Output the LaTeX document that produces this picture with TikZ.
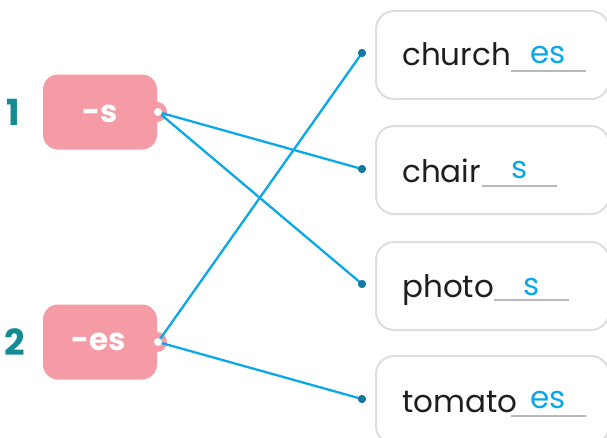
\documentclass[tikz,border=0pt]{standalone}
\usepackage{fontspec}
\setmainfont{Poppins}
\definecolor{tagpink}{RGB}{245,155,165}
\definecolor{numteal}{RGB}{20,138,146}
\definecolor{linkblue}{RGB}{10,168,230}
\definecolor{dotblue}{RGB}{22,120,160}
\definecolor{boxgray}{RGB}{222,222,222}
\definecolor{ulgray}{RGB}{185,185,185}
\definecolor{inkblack}{RGB}{30,30,30}
\begin{document}
\begin{tikzpicture}[x=1pt,y=-1pt,
  tagbox/.style={fill=tagpink, rounded corners=15pt, minimum width=114pt, minimum height=75pt, inner sep=0pt},
  tagtxt/.style={text=white, font=\fontsize{31}{34}\selectfont\bfseries, inner sep=0pt},
  numlbl/.style={text=numteal, font=\fontsize{36}{38}\selectfont\bfseries, inner sep=0pt},
  wordbox/.style={draw=boxgray, line width=2pt, rounded corners=18pt, minimum width=233pt, minimum height=88pt,
    anchor=north west, inner sep=0pt},
  wordtxt/.style={text=inkblack, font=\fontsize{31}{34}\selectfont, anchor=base west, inner sep=0pt},
  anstxt/.style={text=linkblue, font=\fontsize{31}{34}\selectfont, anchor=base, inner sep=0pt},
  uline/.style={draw=ulgray, line width=1.6pt},
  link/.style={draw=linkblue, line width=2.3pt},
  enddot/.style={circle, fill=dotblue, inner sep=0pt, minimum size=8pt}
]
\useasboundingbox (0,0) rectangle (607,437);
% right word boxes
\node[wordbox] (b1) at (375,10) {};
\node[wordbox] (b2) at (375,125) {};
\node[wordbox] (b3) at (375,241) {};
\node[wordbox] (b4) at (375,355) {};
% words
\node[wordtxt] (w1) at (402,65) {church};
\node[wordtxt] (w2) at (402,182) {chair};
\node[wordtxt] (w3) at (402,297) {photo};
\node[wordtxt] (w4) at (402,412) {tomato};
% blanks
\coordinate (u1a) at (511,71); \coordinate (u1b) at (586,71);
\coordinate (u2a) at (482,186); \coordinate (u2b) at (557,186);
\coordinate (u3a) at (494,300); \coordinate (u3b) at (569,300);
\coordinate (u4a) at (511,416); \coordinate (u4b) at (586,416);
\draw[uline] (u1a) -- (u1b);
\draw[uline] (u2a) -- (u2b);
\draw[uline] (u3a) -- (u3b);
\draw[uline] (u4a) -- (u4b);
\node[anstxt] (a1) at (548,63) {es};
\node[anstxt] (a2) at (520,178) {s};
\node[anstxt] (a3) at (532,295) {s};
\node[anstxt] (a4) at (548,408) {es};
% tags
\node[tagbox] (t1) at (100,112) {};
\node[tagbox] (t2) at (100,342) {};
\fill[tagpink] (157,112) circle (10pt);
\fill[tagpink] (157,342) circle (10pt);
\node[tagtxt] (s1) at (100,114) {-s};
\node[tagtxt] (s2) at (99,342) {-es};
\node[numlbl] (n1) at (13,112) {1};
\node[numlbl] (n2) at (15,342) {2};
% connector endpoints
\coordinate (p1) at (158,112);
\coordinate (p2) at (158,342);
\node[enddot] (d1) at (362,53) {};
\node[enddot] (d2) at (362,169) {};
\node[enddot] (d3) at (362,284) {};
\node[enddot] (d4) at (362,399) {};
% links
\draw[link] (p1) -- (d2.center);
\draw[link] (p1) -- (d3.center);
\draw[link] (p2) -- (d1.center);
\draw[link] (p2) -- (d4.center);
\node[enddot] at (d1) {};
\node[enddot] at (d2) {};
\node[enddot] at (d3) {};
\node[enddot] at (d4) {};
\fill[white] (p1) circle (4pt);
\fill[white] (p2) circle (4pt);
\end{tikzpicture}
\end{document}
